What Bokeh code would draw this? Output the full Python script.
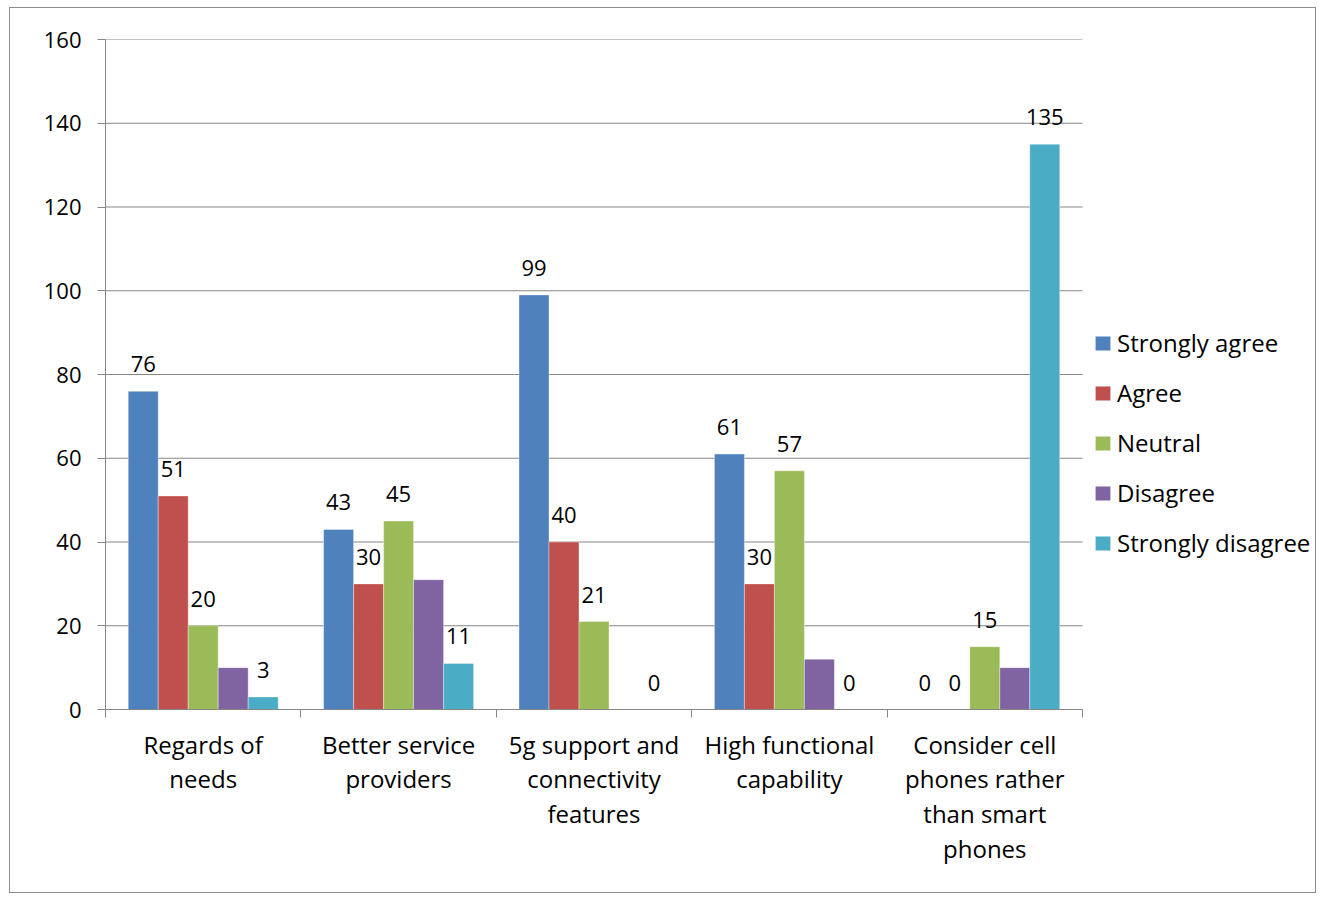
from bokeh.plotting import figure
from bokeh.models import (ColumnDataSource, Range1d, FixedTicker, Legend, LegendItem)
from bokeh.transform import dodge
from bokeh.core.properties import value
from bokeh.embed import file_html
from bokeh.resources import INLINE

categories = ["Regards of needs", "Better service providers",
              "5g support and connectivity features", "High functional capability",
              "Consider cell phones rather than smart phones"]
tick_labels = ["Regards of\nneeds", "Better service\nproviders",
               "5g support and\nconnectivity\nfeatures", "High functional\ncapability",
               "Consider cell\nphones rather\nthan smart\nphones"]
series_names = ["Strongly agree", "Agree", "Neutral", "Disagree", "Strongly disagree"]
strongly_agree = [76, 43, 99, 61, 0]
agree = [51, 30, 40, 30, 0]
neutral = [20, 45, 21, 57, 15]
disagree = [10, 31, 0, 12, 10]
strongly_disagree = [3, 11, 0, 0, 135]
y_ticks = [0, 20, 40, 60, 80, 100, 120, 140, 160]

series_values = [strongly_agree, agree, neutral, disagree, strongly_disagree]
colors = ["#4F81BD", "#C0504D", "#9BBB59", "#8064A2", "#4BACC6"]
show_labels = [True, True, True, False, True]

FONT = "Open Sans"
GREY = "#868686"

n = len(categories)
centers = [i + 0.5 for i in range(n)]
data = {"x": centers}
for k, vals in enumerate(series_values):
    data[f"s{k}"] = vals
    data[f"t{k}"] = [str(v) for v in vals]
src = ColumnDataSource(data)

# plot area of the categories is 977 px wide; the frame continues under the legend
x_end = n * (1307 - 95) / 977

p = figure(width=1307, height=886, output_backend="svg", toolbar_location=None,
           x_range=Range1d(0, x_end), y_range=Range1d(0, 160),
           min_border_left=95, min_border_right=0, min_border_top=31, min_border_bottom=185,
           margin=(7, 0, 0, 9),
           styles={"border": "1.5px solid #8c8c8c"})
p.outline_line_color = None
p.xgrid.grid_line_color = None
p.ygrid.grid_line_color = None

# horizontal gridlines limited to the category area
grid_src = ColumnDataSource({"y": y_ticks, "x0": [0] * len(y_ticks), "x1": [n] * len(y_ticks)})
p.segment(x0="x0", x1="x1", y0="y", y1="y", source=grid_src, line_color=GREY, line_width=1)

bw = 0.1535
items = []
for k, name in enumerate(series_names):
    off = (k - 2) * bw
    r = p.vbar(x=dodge("x", off, range=p.x_range), top=f"s{k}", width=bw, source=src,
               fill_color=colors[k], line_color="white", line_width=0.6, line_alpha=0.6)
    items.append(LegendItem(label=name, renderers=[r]))
    if show_labels[k]:
        p.text(x=dodge("x", off, range=p.x_range), y=f"s{k}", text=f"t{k}", source=src,
               text_font=value(FONT), text_font_size="22px", text_color="black",
               text_align="center", text_baseline="alphabetic", y_offset=-27)

# y axis
ya = p.yaxis[0]
ya.ticker = FixedTicker(ticks=y_ticks, minor_ticks=[])
ya.axis_line_color = GREY
ya.major_tick_line_color = GREY
ya.major_tick_out = 8
ya.major_tick_in = 0
ya.major_label_standoff = 16
ya.major_label_text_font = FONT
ya.major_label_text_font_size = "22px"
ya.major_label_text_color = "black"

# x axis
xa = p.xaxis[0]
xa.bounds = (0, n)
xa.ticker = FixedTicker(ticks=centers, minor_ticks=list(range(n + 1)))
xa.major_label_overrides = {c: t for c, t in zip(centers, tick_labels)}
xa.axis_line_color = GREY
xa.major_tick_line_color = None
xa.major_tick_out = 0
xa.major_tick_in = 0
xa.minor_tick_line_color = GREY
xa.minor_tick_out = 8
xa.minor_tick_in = 0
xa.major_label_standoff = 10
xa.major_label_text_font = FONT
xa.major_label_text_font_size = "24px"
xa.major_label_text_color = "black"
xa.major_label_text_line_height = 1.06

legend = Legend(items=items, location=(988, 150), orientation="vertical",
                label_text_font=FONT, label_text_font_size="24px", label_text_color="black",
                glyph_width=19, glyph_height=18, label_standoff=5, spacing=17,
                padding=0, margin=0, border_line_color=None, background_fill_alpha=0)
p.add_layout(legend, "center")

open("out.html", "w").write(file_html(p, INLINE))
